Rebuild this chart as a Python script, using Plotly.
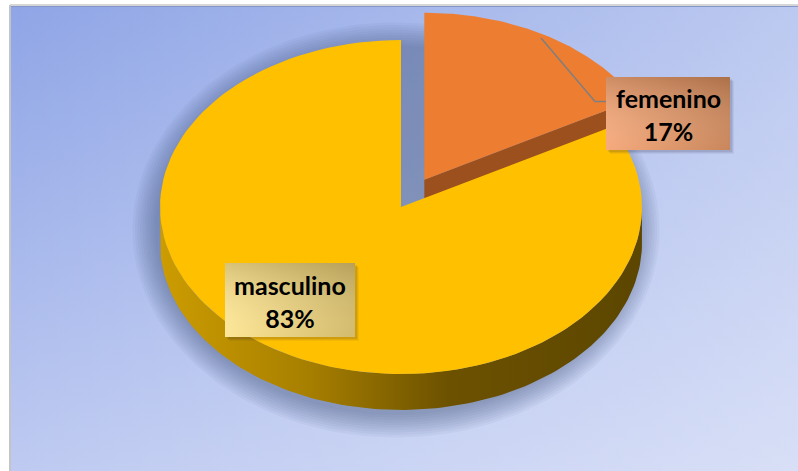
import numpy as np
import plotly.graph_objects as go

# ---- data -------------------------------------------------------------
labels = ["femenino", "masculino"]
shares = [17, 83]                      # percent of respondents
top_colors = ["#ED7D31", "#FFC000"]    # slice top faces
face_colors = ["#9B501E", "#B88A00"]   # radial cut faces
pulls = [0.19, 0.0]                    # exploded fraction of radius

# ---- geometry of the tilted pie (screen pixels, y grows downward) -----
W, H = 798, 471
CX, CY = 401, 207
RX, RY = 241, 167
DEPTH = 36

total = float(sum(shares))
bounds = np.concatenate([[0.0], np.cumsum(shares) / total * 360.0])


def arc(t0, t1, ox, oy, dz=0.0, n=120):
    t = np.radians(np.linspace(t0, t1, n))
    return ox + RX * np.sin(t), oy - RY * np.cos(t) + dz


def slice_origin(i):
    mid = np.radians((bounds[i] + bounds[i + 1]) / 2)
    return (CX + pulls[i] * RX * np.sin(mid), CY - pulls[i] * RY * np.cos(mid))


def poly(xs, ys, **kw):
    return go.Scatter(x=list(xs), y=list(ys), mode="lines", fill="toself",
                      line=dict(width=0), hoverinfo="skip", showlegend=False, **kw)


fig = go.Figure()

# ---- chart area background -------------------------------------------
bx = [11, W, W, 11, 11]
by = [7, 7, H, H, 7]
fig.add_trace(poly(bx, by, fillgradient=dict(
    type="vertical", start=7, stop=H,
    colorscale=[[0, "#8FA5E6"], [1, "#BECAF1"]])))
fig.add_trace(poly(bx, by, fillgradient=dict(
    type="horizontal", start=11, stop=W,
    colorscale=[[0, "rgba(255,255,255,0)"], [1, "rgba(255,255,255,0.40)"]])))

# ---- soft shadow under the pie ----------------------------------------
for k in range(10):
    grow = 2.5 * k
    t = np.radians(np.linspace(0, 360, 200))
    sx = CX - 5 + (RX + grow) * np.sin(t)
    sy = CY + DEPTH / 2 + 5 + (RY + DEPTH / 2 + grow) * np.cos(t)
    fig.add_trace(poly(sx, sy, fillcolor="rgba(60,70,110,0.05)"))

# ---- slices: exploded slice first (it sits behind) --------------------
order = sorted(range(len(shares)), key=lambda i: -pulls[i])
for i in order:
    t0, t1 = bounds[i], bounds[i + 1]
    ox, oy = slice_origin(i)

    # outer wall on the front half of the ellipse
    a0, a1 = max(t0, 90.0), min(t1, 270.0)
    if a1 > a0:
        ux, uy = arc(a0, a1, ox, oy)
        lx, ly = arc(a1, a0, ox, oy, DEPTH)
        fig.add_trace(poly(np.r_[ux, lx, ux[:1]], np.r_[uy, ly, uy[:1]],
                           fillgradient=dict(type="horizontal", start=CX - RX, stop=CX + RX,
                                             colorscale=[[0, "#CC9C00"], [0.3, "#A88000"],
                                                         [0.6, "#6C5100"], [1, "#5C4600"]])))

    # radial cut face visible at the trailing edge of the exploded slice
    if pulls[i] > 0:
        ex, ey = arc(t1, t1, ox, oy, n=1)
        fx = [ox, ex[0], ex[0], ox, ox]
        fy = [oy, ey[0], ey[0] + DEPTH, oy + DEPTH, oy]
        fig.add_trace(poly(fx, fy, fillcolor=face_colors[i]))

    # top face
    ax_, ay_ = arc(t0, t1, ox, oy)
    fig.add_trace(poly(np.r_[ox, ax_, ox], np.r_[oy, ay_, oy], fillcolor=top_colors[i]))

# ---- data labels --------------------------------------------------------
boxes = {
    "femenino": dict(x0=606, x1=730, y0=77, y1=150,
                     base=["#F5AA7D", "#C9865B"], shade="rgba(70,35,10,0.22)"),
    "masculino": dict(x0=225, x1=355, y0=263, y1=337,
                      base=["#FDE696", "#D3BA6C"], shade="rgba(70,55,10,0.20)"),
}

# leader line from the middle of the exploded arc to its label
fi = labels.index("femenino")
fox, foy = slice_origin(fi)
mx, my = arc((bounds[fi] + bounds[fi + 1]) / 2, (bounds[fi] + bounds[fi + 1]) / 2, fox, foy, n=1)
fb = boxes["femenino"]
ly_ = (fb["y0"] + fb["y1"]) / 2 - 12
fig.add_trace(go.Scatter(x=[mx[0] - 6, fb["x0"] - 11, fb["x0"]], y=[my[0] + 2, ly_, ly_],
                         mode="lines", line=dict(color="#7F7F7F", width=1.5),
                         hoverinfo="skip", showlegend=False))

for i, name in enumerate(labels):
    b = boxes[name]
    rx = [b["x0"], b["x1"], b["x1"], b["x0"], b["x0"]]
    ry = [b["y0"], b["y0"], b["y1"], b["y1"], b["y0"]]
    # drop shadow
    for k, op in enumerate([0.10, 0.08, 0.06]):
        d = 2 + k
        fig.add_trace(poly([v + d for v in rx], [v + d for v in ry],
                           fillcolor=f"rgba(40,40,60,{op})"))
    fig.add_trace(poly(rx, ry, fillgradient=dict(
        type="horizontal", start=b["x0"], stop=b["x1"],
        colorscale=[[0, b["base"][0]], [1, b["base"][1]]])))
    fig.add_trace(poly(rx, ry, fillgradient=dict(
        type="vertical", start=b["y0"], stop=b["y1"],
        colorscale=[[0, b["shade"]], [1, "rgba(255,255,255,0)"]])))
    pct = round(shares[i] / total * 100)
    fig.add_annotation(x=(b["x0"] + b["x1"]) / 2, y=(b["y0"] + b["y1"]) / 2 + 1,
                       text=f"<b>{name}</b><br><b>{pct}%</b>", showarrow=False,
                       font=dict(family="Lato", size=25, color="#000000"),
                       xanchor="center", yanchor="middle")

# ---- outer frame --------------------------------------------------------
fig.add_shape(type="line", x0=10, x1=10, y0=5, y1=H, line=dict(color="#C4C4C4", width=2))
fig.add_shape(type="line", x0=10, x1=W, y0=5, y1=5, line=dict(color="#C8C8C8", width=1.5))
fig.add_shape(type="line", x0=11, x1=W, y0=6.5, y1=6.5, line=dict(color="#8496C8", width=1.2))

fig.update_layout(
    width=W, height=H,
    margin=dict(l=0, r=0, t=0, b=0),
    paper_bgcolor="white", plot_bgcolor="white",
    xaxis=dict(range=[0, W], visible=False, fixedrange=True),
    yaxis=dict(range=[H, 0], visible=False, fixedrange=True),
    showlegend=False,
)

fig.write_html("out.html")
